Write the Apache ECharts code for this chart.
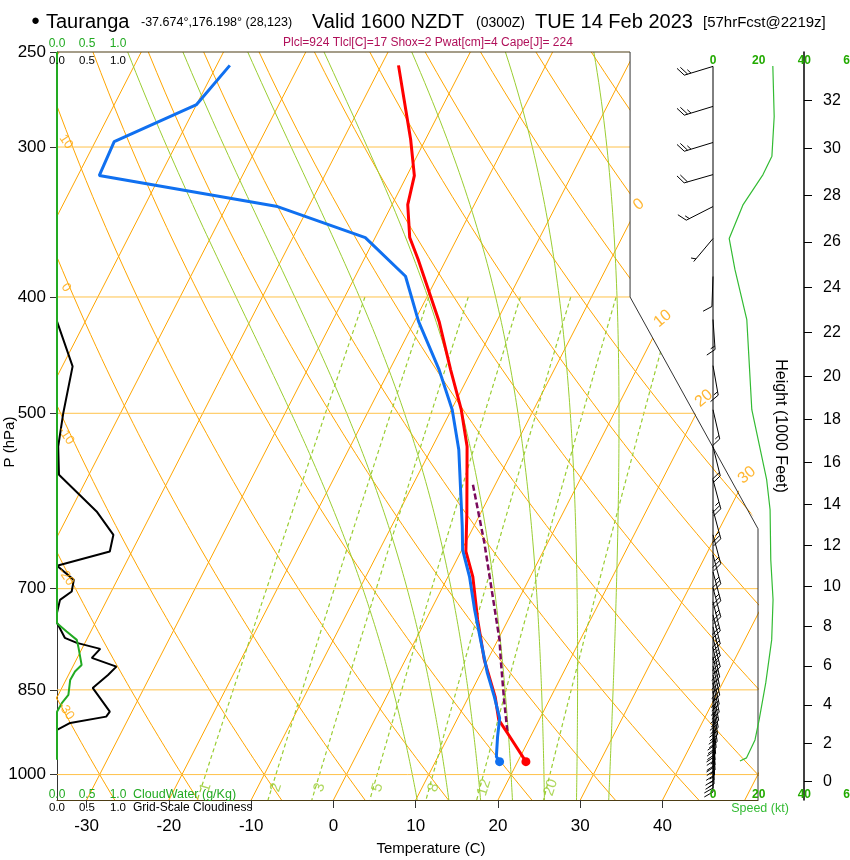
<!DOCTYPE html>
<html><head><meta charset="utf-8">
<script src="https://cdn.jsdelivr.net/npm/echarts@6/dist/echarts.min.js"></script>
<style>html,body{margin:0;padding:0;background:#fff}#c{width:850px;height:860px}</style>
</head><body><div id="c"></div>
<script>
// ---------------- data ----------------
const pressureTicks = [250, 300, 400, 500, 700, 850, 1000];
const pressureLines = [300, 400, 500, 700, 850, 1000];
const tempTicks = [-30, -20, -10, 0, 10, 20, 30, 40];
const heightTicks = [0, 2, 4, 6, 8, 10, 12, 14, 16, 18, 20, 22, 24, 26, 28, 30, 32];
const speedTicks = [0, 20, 40, 60];

// temperature profile (hPa, C)
const tempP = [256.5, 273.8, 295.7, 316.9, 335.0, 356.9, 372.3, 419.2, 459.8, 496.6, 532.9, 605.1, 651.8, 683.9, 743.2, 802.5, 823.2, 861.0, 900.5, 923.8, 975.5];
const tempC = [-37.9, -35.1, -31.8, -29.1, -28.1, -25.8, -23.4, -17.0, -12.6, -8.8, -5.8, -1.7, 0.6, 3.0, 6.3, 9.6, 10.9, 13.2, 15.1, 17.0, 21.0];
// dew point profile
const dewP = [256.5, 276.5, 296.9, 316.9, 336.3, 356.9, 384.4, 419.2, 459.8, 496.6, 536.3, 621.3, 649.7, 683.9, 729.0, 772.3, 823.2, 861.0, 897.5, 929.9, 966.2, 975.5];
const dewC = [-58.4, -60.0, -67.7, -67.4, -43.8, -31.2, -23.9, -19.5, -14.0, -9.9, -6.6, -1.4, 0.1, 2.6, 5.3, 7.9, 10.8, 13.1, 15.1, 16.0, 17.1, 17.8];
// lifted parcel
const parcelP = [573.5, 641.0, 772.3, 802.5, 866.6, 923.8];
const parcelC = [-2.7, 2.3, 10.2, 11.6, 14.5, 17.0];
// grid-scale cloudiness (0..1)
const cloudP = [250, 419.2, 457.0, 499.7, 532.9, 562.6, 603.6, 631.3, 651.8, 670.0, 688.3, 703.8, 715.2, 733.2, 747.4, 769.2, 776.7, 785.7, 799.4, 812.9, 826.0, 846.8, 886.3, 894.8, 905.7, 917.9];
const cloudFrac = [0, 0, 0.26, 0.105, 0.02, 0.033, 0.66, 0.94, 0.88, 0, 0.28, 0.245, 0.05, 0, 0, 0.13, 0.33, 0.72, 0.58, 0.99, 0.85, 0.595, 0.88, 0.82, 0.22, 0];
// cloud water (g/kg)
const cwP = [250, 747.9, 760.1, 772.3, 784.6, 810.3, 820.7, 833.9, 858.3, 872.0, 886.3, 972];
const cwVal = [0, 0, 0.16, 0.33, 0.36, 0.41, 0.30, 0.22, 0.19, 0.08, 0, 0];
// wind speed profile (kt)
const spdP = [256.8, 282.9, 305.3, 316.3, 335.0, 357.6, 379.4, 417.7, 496.6, 568.0, 601.7, 662.3, 715.0, 772.3, 838.7, 900.5, 935.8, 968.4, 974.2];
const spdKt = [26.2, 26.8, 25.8, 21.9, 13.2, 7.1, 9.6, 14.8, 17.0, 23.5, 25.0, 25.3, 26.3, 25.7, 23.1, 20.2, 18.4, 14.7, 11.8];
// wind barbs
const barbP = [257.0, 277.5, 297.4, 316.3, 336.3, 357.6, 384.6, 417.7, 456.3, 496.6, 533.1, 568.1, 601.7, 631.3, 656.0, 677.8, 698.9, 717.9, 736.1, 753.2, 769.2, 784.2, 797.9, 811.8, 826.0, 838.7, 851.8, 863.2, 875.0, 886.7, 897.0, 907.4, 917.9, 926.8, 935.8, 944.8, 953.9, 961.3, 968.7, 976.1];
const barbKt = [26, 27, 26, 22, 13, 7, 10, 15, 16, 17, 19, 23, 25, 25, 25, 26, 26, 26, 26, 26, 26, 25, 25, 24, 23, 23, 22, 21, 21, 20, 20, 19, 18, 17, 18, 17, 15, 14, 13, 12];
const barbDir = [253, 253, 253, 254, 243, 220, 182, 176, 170, 167, 166, 165, 165, 165, 165, 165, 165, 166, 166, 166, 166, 167, 167, 167, 168, 168, 169, 170, 171, 172, 174, 175, 176, 176, 176, 177, 178, 178, 180, 180];
// background isopleths
const isotherms = [-120, -110, -100, -90, -80, -70, -60, -50, -40, -30, -20, -10, 0, 10, 20, 30, 40, 50];
const dryThetas = [-40, -30, -20, -10, 0, 10, 20, 30, 40, 50, 60, 70, 80, 90, 100, 110, 120, 130, 140, 150, 160, 170, 180];
const moistThetaW = [8, 12, 16, 20, 24, 28, 32];
const mixRatios = [1, 2, 3, 5, 8, 12, 20];
// isopleth labels
const isoLabelT = [0, 10, 20, 30];
const isoLabelP = [335, 417, 486, 563];
const dryLabelTheta = [10, 0, -10, -20, -30];
const dryLabelP = [297, 393, 522, 684, 885];

// ---------------- helpers ----------------
const K = 32.5, P0 = 1050, PTOP = 250;
const X_MIN = -33.6, X_MAX = 51.6;
const lp = p => Math.log(p);
const sx = (T, p) => T + K * Math.log(P0 / p);
const FONT = '"Liberation Sans", Arial, sans-serif';
const ORANGE = '#FFA500', HLINE = '#FFC24A', YGREEN = '#9ACD32';

function range(a, b, s) { const r = []; for (let v = a; v <= b + 1e-9; v += s) r.push(v); return r; }

function dryLine(th) {
  return range(PTOP, P0, 10).map(p => [sx((th + 273.15) * Math.pow(p / 1000, 0.2857) - 273.15, p), lp(p)]);
}
function moistLine(tw) {
  const Rd = 287.04, Cp = 1005.7, L = 2.501e6, eps = 0.622;
  const f = (p, T) => { const tc = T - 273.15; const es = 6.112 * Math.exp(17.67 * tc / (tc + 243.5)); const rs = eps * es / (p - es);
    return (Rd * T + L * rs) / (p * (Cp + L * L * rs * eps / (Rd * T * T))); };
  const run = (h, pEnd) => { let p = 1000, T = tw + 273.15; const out = [];
    while ((h < 0 && p > pEnd) || (h > 0 && p < pEnd)) {
      const k1 = f(p, T), k2 = f(p + h / 2, T + h / 2 * k1), k3 = f(p + h / 2, T + h / 2 * k2), k4 = f(p + h, T + h * k3);
      T += h / 6 * (k1 + 2 * k2 + 2 * k3 + k4); p += h; out.push([p, T]); }
    return out; };
  const up = run(-5, PTOP), down = run(5, P0);
  const all = down.reverse().concat([[1000, tw + 273.15]]).concat(up);
  return all.map(([p, T]) => [sx(T - 273.15, p), lp(p)]);
}
function mixTd(w, p) { const e = w * p / (622 + w); const a = Math.log(e / 6.112); return 243.5 * a / (17.67 - a); }
function mixLine(w) { return range(400, P0, 25).map(p => [sx(mixTd(w, p), p), lp(p)]); }
function bg(data, color, dashed) {
  return { type: 'line', xAxisIndex: 0, yAxisIndex: 0, data, symbol: 'none', silent: true, z: 1,
    lineStyle: { color, width: dashed ? 1.2 : 1, type: dashed ? [4, 3] : 'solid' } };
}

const series = [];
isotherms.forEach(T => series.push(bg([[sx(T, P0), lp(P0)], [sx(T, PTOP), lp(PTOP)]], ORANGE)));
dryThetas.forEach(th => series.push(bg(dryLine(th), ORANGE)));
moistThetaW.forEach(tw => series.push(bg(moistLine(tw), YGREEN)));
mixRatios.forEach(w => series.push(bg(mixLine(w), YGREEN, true)));
pressureLines.forEach(p => series.push(bg([[X_MIN, lp(p)], [X_MAX, lp(p)]], HLINE)));

// mask + frame for the cut-out upper-right corner
const FR_X = 36.05, FR_P = 400, FR_PC = 624;
series.push({ type: 'custom', xAxisIndex: 0, yAxisIndex: 0, z: 3, silent: true, data: [[0, 0]],
  renderItem(params, api) {
    const a = api.coord([FR_X, lp(PTOP)]), b = api.coord([FR_X, lp(FR_P)]), c = api.coord([X_MAX, lp(FR_PC)]),
      d = api.coord([X_MAX, lp(P0)]), tl = api.coord([X_MIN, lp(PTOP)]), tr = api.coord([X_MAX, lp(PTOP)]);
    return { type: 'group', children: [
      { type: 'polygon', shape: { points: [[a[0], a[1] - 2], [tr[0] + 2, tr[1] - 2], [c[0] + 2, c[1]], [b[0], b[1]]] }, style: { fill: '#fff' } },
      { type: 'polyline', shape: { points: [tl, a] }, style: { stroke: '#4d3d14', lineWidth: 1.2, fill: null } },
      { type: 'polyline', shape: { points: [a, b, c, d] }, style: { stroke: '#333', lineWidth: 1, fill: null } }
    ] };
  } });

// profiles
series.push({ type: 'line', xAxisIndex: 0, yAxisIndex: 0, z: 5, symbol: 'none', silent: true,
  data: parcelP.map((p, i) => [sx(parcelC[i], p), lp(p)]), lineStyle: { color: '#7A0A5C', width: 2.5, type: [6, 3] } });
series.push({ type: 'line', xAxisIndex: 0, yAxisIndex: 0, z: 5, symbol: 'none', showSymbol: true, silent: true,
  data: tempP.map((p, i) => ({ value: [sx(tempC[i], p), lp(p)], symbol: i === tempP.length - 1 ? 'circle' : 'none', symbolSize: 9 })),
  itemStyle: { color: '#FF0000' }, lineStyle: { color: '#FF0000', width: 3 } });
series.push({ type: 'line', xAxisIndex: 0, yAxisIndex: 0, z: 5, symbol: 'none', showSymbol: true, silent: true,
  data: dewP.map((p, i) => ({ value: [sx(dewC[i], p), lp(p)], symbol: i === dewP.length - 1 ? 'circle' : 'none', symbolSize: 9 })),
  itemStyle: { color: '#1070F0' }, lineStyle: { color: '#1070F0', width: 3 } });

// cloud panel
series.push({ type: 'line', xAxisIndex: 1, yAxisIndex: 1, z: 5, symbol: 'none', silent: true,
  data: cloudP.map((p, i) => [cloudFrac[i], lp(p)]), lineStyle: { color: '#000', width: 2 } });
series.push({ type: 'line', xAxisIndex: 1, yAxisIndex: 1, z: 5, symbol: 'none', silent: true,
  data: cwP.map((p, i) => [cwVal[i], lp(p)]), lineStyle: { color: '#22AA22', width: 2 } });

// speed profile + barbs
series.push({ type: 'line', xAxisIndex: 2, yAxisIndex: 2, z: 6, symbol: 'none', silent: true,
  data: spdP.map((p, i) => [spdKt[i], lp(p)]), lineStyle: { color: '#33BB33', width: 1.2 } });
series.push({ type: 'line', xAxisIndex: 2, yAxisIndex: 2, z: 6, symbol: 'none', silent: true,
  data: [[0, lp(barbP[0])], [0, lp(barbP[barbP.length - 1])]], lineStyle: { color: '#000', width: 1 } });
series.push({ type: 'custom', xAxisIndex: 2, yAxisIndex: 2, z: 6, silent: true,
  data: barbP.map((p, i) => [0, lp(p), barbKt[i], barbDir[i]]),
  renderItem(params, api) {
    const pt = api.coord([api.value(0), api.value(1)]);
    const kt = api.value(2), dir = api.value(3) * Math.PI / 180;
    const dx = Math.sin(dir), dy = -Math.cos(dir), nx = -dy, ny = dx;
    const fx = 0.5 * dx + 0.866 * nx, fy = 0.5 * dy + 0.866 * ny;
    const Ls = 30, st = { stroke: '#000', lineWidth: 1 };
    const ch = [{ type: 'line', shape: { x1: pt[0], y1: pt[1], x2: pt[0] + Ls * dx, y2: pt[1] + Ls * dy }, style: st }];
    let s = Math.round(kt / 5) * 5, pos = Ls;
    while (s >= 10) { const bx = pt[0] + pos * dx, by = pt[1] + pos * dy;
      ch.push({ type: 'line', shape: { x1: bx, y1: by, x2: bx + 10 * fx, y2: by + 10 * fy }, style: st }); pos -= 3.5; s -= 10; }
    if (s >= 5) { if (pos === Ls) pos -= 3.5; const bx = pt[0] + pos * dx, by = pt[1] + pos * dy;
      ch.push({ type: 'line', shape: { x1: bx, y1: by, x2: bx + 5 * fx, y2: by + 5 * fy }, style: st }); }
    return { type: 'group', children: ch };
  } });

// isopleth labels
series.push({ type: 'scatter', xAxisIndex: 0, yAxisIndex: 0, z: 7, silent: true, clip: false, symbolSize: 0,
  data: isoLabelT.map((t, i) => ({ value: [sx(t, isoLabelP[i]), lp(isoLabelP[i])], label: { formatter: String(t) } })),
  label: { show: true, position: 'inside', rotate: 40, color: ORANGE, fontSize: 16, fontFamily: FONT } });
series.push({ type: 'scatter', xAxisIndex: 0, yAxisIndex: 0, z: 7, silent: true, clip: false, symbolSize: 0,
  data: dryLabelTheta.map((t, i) => ({ value: [X_MIN + 1.1, lp(dryLabelP[i])], label: { formatter: String(t) } })),
  label: { show: true, position: 'inside', rotate: -55, color: ORANGE, fontSize: 13, fontFamily: FONT } });
series.push({ type: 'scatter', xAxisIndex: 0, yAxisIndex: 0, z: 7, silent: true, clip: false, symbolSize: 0,
  data: mixRatios.map(w => ({ value: [sx(mixTd(w, 1025), 1025) + 0.5, lp(1025)], label: { formatter: String(w) } })),
  label: { show: true, position: 'inside', rotate: 72, color: YGREEN, fontSize: 15, fontFamily: FONT } });

// ---------------- axes ----------------
const G = { top: 52, bottom: 60 };
const hidden = { show: false };
const lnMin = lp(PTOP), lnMax = lp(P0);
const stdP = h => 1013.25 * Math.pow(1 - 2.25577e-5 * h * 304.8, 5.25588);
const hOfLnP = v => (1 - Math.pow(Math.exp(v) / 1013.25, 1 / 5.25588)) / 2.25577e-5 / 304.8;

const txt = (x, y, text, font, fill, align, rot) => ({ type: 'text', x, y, rotation: rot || 0, z: 100, silent: true,
  style: { text, font, fill: fill || '#000', textAlign: align || 'left', align: align || 'left', textVerticalAlign: 'middle', verticalAlign: 'middle' } });
const fz = s => s + 'px ' + FONT;
const baseGraphic = [
  txt(31, 21, '●', fz(15)),
  txt(46, 22, 'Tauranga', fz(20)),
  txt(141, 23, '-37.674°,176.198° (28,123)', fz(12.5)),
  txt(312, 22, 'Valid 1600 NZDT', fz(20)),
  txt(476, 23, '(0300Z)', fz(14)),
  txt(535, 22, 'TUE 14 Feb 2023', fz(20)),
  txt(703, 23, '[57hrFcst@2219z]', fz(15)),
  txt(283, 43, 'Plcl=924 Tlcl[C]=17 Shox=2 Pwat[cm]=4 Cape[J]= 224', fz(12), '#B0105A'),
  txt(57, 44, '0.0', fz(12), '#22AA22', 'center'), txt(87, 44, '0.5', fz(12), '#22AA22', 'center'), txt(118, 44, '1.0', fz(12), '#22AA22', 'center'),
  txt(57, 61, '0.0', fz(11.5), '#000', 'center'), txt(87, 61, '0.5', fz(11.5), '#000', 'center'), txt(118, 61, '1.0', fz(11.5), '#000', 'center'),
  txt(57, 795, '0.0', fz(12), '#22AA22', 'center'), txt(87, 795, '0.5', fz(12), '#22AA22', 'center'), txt(118, 795, '1.0', fz(12), '#22AA22', 'center'),
  txt(133, 795, 'CloudWater (g/Kg)', fz(12.5), '#22AA22'),
  txt(57, 808, '0.0', fz(11.5), '#000', 'center'), txt(87, 808, '0.5', fz(11.5), '#000', 'center'), txt(118, 808, '1.0', fz(11.5), '#000', 'center'),
  txt(133, 808, 'Grid-Scale Cloudiness', fz(12)),
  txt(431, 849, 'Temperature (C)', fz(15), '#000', 'center'),
  txt(10, 442, 'P (hPa)', fz(15), '#000', 'center', Math.PI / 2),
  txt(780, 426, 'Height (1000 Feet)', fz(16), '#000', 'center', -Math.PI / 2),
  txt(760, 809, 'Speed (kt)', fz(12.5), '#33BB33', 'center')
];

const option = {
  animation: false,
  backgroundColor: '#fff',
  textStyle: { fontFamily: FONT },
  grid: [
    { left: 57, right: 92, top: G.top, bottom: G.bottom },
    { left: 57, right: 92, top: G.top, bottom: G.bottom },
    { left: 713, right: 0, top: G.top, bottom: G.bottom },
    { left: 713, right: 46, top: G.top, bottom: G.bottom }
  ],
  xAxis: [
    { type: 'value', gridIndex: 0, min: X_MIN, max: X_MAX, position: 'bottom',
      axisLine: { show: true, onZero: false, lineStyle: { color: '#4d3d14', width: 1.2 } },
      axisTick: { show: true, length: 8, lineStyle: { color: '#333' }, customValues: tempTicks },
      axisLabel: { show: true, color: '#000', fontSize: 17, margin: 18, customValues: tempTicks },
      splitLine: hidden },
    { type: 'value', gridIndex: 1, min: 0, max: 701 / 60, show: false },
    { type: 'value', gridIndex: 2, min: 0, max: 60, show: false },
    { type: 'value', gridIndex: 3, min: 0, max: 1, show: false }
  ],
  yAxis: [
    { type: 'value', gridIndex: 0, min: lnMin, max: lnMax, inverse: true, position: 'left',
      axisLine: { show: true, onZero: false, lineStyle: { color: '#333' } },
      axisTick: { show: true, length: 7, lineStyle: { color: '#333' }, customValues: pressureTicks.map(lp) },
      axisLabel: { show: true, color: '#000', fontSize: 17, margin: 11, customValues: pressureTicks.map(lp), formatter: v => String(Math.round(Math.exp(v))) },
      splitLine: hidden },
    { type: 'value', gridIndex: 1, min: lnMin, max: lnMax, inverse: true, show: false },
    { type: 'value', gridIndex: 2, min: lnMin, max: lnMax, inverse: true, show: false },
    { type: 'value', gridIndex: 3, min: lnMin, max: lnMax, inverse: true, position: 'right',
      axisLine: { show: true, onZero: false, lineStyle: { color: '#000', width: 1.5 } },
      axisTick: { show: true, length: 8, lineStyle: { color: '#000' }, customValues: heightTicks.map(h => lp(stdP(h))) },
      axisLabel: { show: true, color: '#000', fontSize: 16, margin: 19, customValues: heightTicks.map(h => lp(stdP(h))), formatter: v => String(Math.round(hOfLnP(v))) },
      splitLine: hidden }
  ],
  graphic: baseGraphic,
  series
};

const chart = echarts.init(document.getElementById('c'), null, { renderer: 'canvas' });
chart.setOption(option);
// speed scale labels placed through the speed axis
const speedLabels = [];
speedTicks.forEach(v => {
  const x = chart.convertToPixel({ xAxisIndex: 2 }, v);
  speedLabels.push(txt(x, 61, String(v), 'bold ' + fz(12), '#22AA00', 'center'));
  speedLabels.push(txt(x, 795, String(v), 'bold ' + fz(12), '#22AA00', 'center'));
});
chart.setOption({ graphic: baseGraphic.concat(speedLabels) });
</script>
</body></html>
